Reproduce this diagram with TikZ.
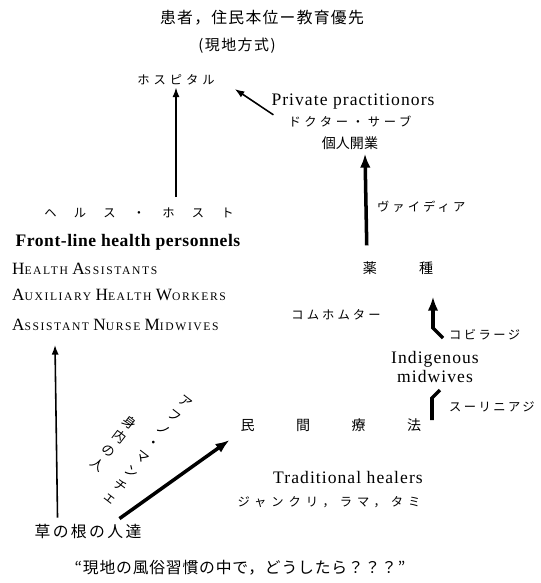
\documentclass[tikz,border=0pt]{standalone}
\usepackage{fontspec}
\setmainfont{Liberation Serif}
\newfontfamily\jp{Noto Sans CJK JP}
\usetikzlibrary{arrows.meta,calc}
\newcommand\fsc[2]{#1{\fontsize{6.6}{7}\selectfont\addfontfeature{LetterSpace=14}#2}}
\newcommand\jgap{\hspace{2.95em}}

\begin{document}
\begin{tikzpicture}[x=0.02cm, y=-0.02cm, inner sep=1pt,
    jpl/.style={font=\jp\fontsize{9}{10}\selectfont},
    jpm/.style={font=\jp\fontsize{8}{9}\selectfont},
    jps/.style={font=\jp\fontsize{7}{8}\selectfont},
    jpc/.style={font=\jp\fontsize{7.5}{8}\selectfont, inner sep=0pt, rotate=-37.5},
    en/.style={font=\fontsize{10}{12}\selectfont},
    sc/.style={anchor=west, font=\fontsize{9.8}{11}\selectfont},
    thinarr/.style={-{Latex[length=5.5pt,width=4pt]}, line width=0.9pt},
    boldarr/.style={-{Latex[length=8pt,width=6pt]}, line width=2pt}]
    \useasboundingbox (0,0) rectangle (541,583);

    % Top: aims and hospital
    \node[jpl] (aim) at (262,18) {\addfontfeature{LetterSpace=8}患者，住民本位ー教育優先};
    \node[jpm, font=\jp\fontsize{8.5}{9}\selectfont] (local) at (237,46) {\addfontfeature{LetterSpace=10}(現地方式)};
    \node[jps] (hosp) at (176,80) {\addfontfeature{LetterSpace=32}ホスピタル};

    % Private practitioners
    \node[en] (priv) at (353,102) {\addfontfeature{LetterSpace=6}Private practitionors};
    \node[jps] (doctor) at (350,122) {\addfontfeature{LetterSpace=30}ドクター・サーブ};
    \node[jpm] (kojin) at (350,143) {個人開業};
    \node[jps, anchor=west] (vaidya) at (375,207) {\addfontfeature{LetterSpace=25}ヴァイディア};
    \node[jpm] (yaku) at (398,268) {薬\hspace{3em}種};
    \node[jps] (komu) at (336,315) {\addfontfeature{LetterSpace=25}コムホムター};

    % Indigenous midwives
    \node[jps, anchor=west] (kobi) at (447,335) {\addfontfeature{LetterSpace=20}コビラージ};
    \node[en, align=center] (indig) at (435,367) {\addfontfeature{LetterSpace=6}Indigenous\\[-1pt]\addfontfeature{LetterSpace=6}midwives};
    \node[jps, anchor=west] (suri) at (447,407) {\addfontfeature{LetterSpace=20}スーリニアジ};

    % Traditional healers
    \node[jpm] (minkan) at (331,425) {民\jgap 間\jgap 療\jgap 法};
    \node[en] (trad) at (348,477) {\addfontfeature{LetterSpace=6}Traditional healers};
    \node[jps] (jankri) at (329,502) {\addfontfeature{LetterSpace=40}ジャンクリ，ラマ，タミ};

    % Front-line health personnel
    \node[jps] (health) at (139,213) {\addfontfeature{LetterSpace=140}ヘルス・ホスト};
    \node[en, font=\fontsize{10}{12}\selectfont\bfseries] (front) at (128,242) {\addfontfeature{LetterSpace=3}Front-line health personnels};
    \node[sc] (ha) at (10,269) {\fsc{H}{EALTH} \fsc{A}{SSISTANTS}};
    \node[sc] (ahw) at (10,295) {\fsc{A}{UXILIARY} \fsc{H}{EALTH} \fsc{W}{ORKERS}};
    \node[sc] (anm) at (10,325) {\fsc{A}{SSISTANT} \fsc{N}{URSE} \fsc{M}{IDWIVES}};

    % Bottom: slanted words, one glyph each
    \foreach \ch [count=\i from 0] in {ア,フ,ノ,・,マ,ン,チ,ェ}
        \node[jpc] (aafno\i) at ($(185,402)+\i*(-10.7,13.9)$) {\ch};
    \foreach \ch [count=\i from 0] in {身,内,の,人}
        \node[jpc] (minai\i) at ($(130,423)+\i*(-10.7,13.9)$) {\ch};
    \node[jpl] (grass) at (88,532) {\addfontfeature{LetterSpace=15}草の根の人達};
    \node[jpl] (quote) at (240,568) {\addfontfeature{LetterSpace=5}“現地の風俗習慣の中で，どうしたら？？？”};

    % Connectors
    \draw[thinarr, shorten <=5pt] (hosp.south |- health.north) -- (hosp.south);
    \draw[thinarr] ([shift={(4,3)}]priv.south west) -- ([shift={(18,9)}]hosp.east);
    \draw[boldarr] ([shift={(6,-14)}]yaku.north west) -- ([shift={(15,2)}]kojin.south);
    \draw[boldarr] ([shift={(-4,3)}]kobi.west) -- ++(-10,-10) -- ([shift={(35,20)}]yaku.south);
    \draw[line width=2pt] ([shift={(-7,-17)}]suri.west) -- ++(-8,8) -- ++(0,22);
    \draw[thinarr] ([shift={(25,-5)}]grass.north west) -- ([shift={(45,12)}]anm.south west);
    \draw[boldarr] ([shift={(-24,-4)}]grass.north east) -- ([shift={(-9,15)}]minkan.west);
\end{tikzpicture}
\end{document}
